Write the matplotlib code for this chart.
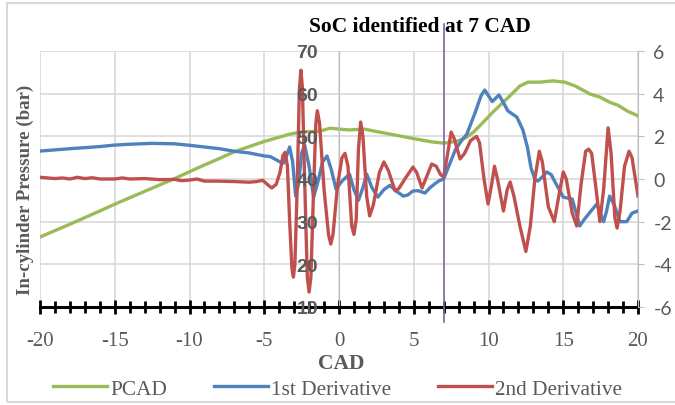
import matplotlib
matplotlib.use("Agg")
import matplotlib.pyplot as plt
from matplotlib.patches import Rectangle
from matplotlib.ticker import MultipleLocator

plt.rcParams['axes.unicode_minus'] = False

# crank angle (CAD) and in-cylinder pressure (bar)
pcad_x = [-20, -18, -16, -15, -14, -12, -11, -10, -9, -8, -7, -6, -5, -4, -3.3,
          -2.6, -2, -1.3, -0.6, 0, 0.7, 1.7, 2.4, 3.0, 3.75, 4.5, 5.1, 6.2, 7.0,
          7.6, 8.0, 8.55, 9.0, 9.4, 10.3, 11.2, 12.1, 12.65, 13.45, 14.3, 15.1,
          15.8, 16.8, 17.45, 18.1, 18.65, 19.3, 20.0]
pcad_y = [26.4, 29.4, 32.5, 34.1, 35.6, 38.6, 40.1, 41.7, 43.3, 44.8, 46.4, 47.6,
          48.8, 49.8, 50.5, 51.0, 51.1, 51.2, 51.9, 51.7, 51.5, 51.7, 51.2, 50.8,
          50.3, 49.8, 49.4, 48.7, 48.4, 48.7, 49.0, 49.8, 51.0, 52.4, 55.7, 58.7,
          61.8, 62.7, 62.7, 63.0, 62.7, 61.8, 59.9, 59.2, 58.0, 57.3, 55.9, 54.8]

# first derivative of pressure
d1_x = [-20, -18, -16, -15, -14, -12.5, -11, -10, -9, -8, -7, -6, -5, -4.6, -4.2,
        -3.95, -3.7, -3.5, -3.3, -3.1, -2.9, -2.7, -2.5, -2.3, -2.0, -1.7, -1.4,
        -1.1, -0.8, -0.5, -0.2, 0.2, 0.7, 1.0, 1.3, 1.6, 1.85, 2.2, 2.6, 3.0,
        3.4, 3.8, 4.3, 4.6, 4.95, 5.3, 5.75, 6.1, 6.4, 6.7, 7.0, 7.4, 7.8, 8.2,
        8.55, 9.1, 9.5, 9.75, 10.0, 10.25, 10.5, 10.7, 10.9, 11.3, 11.9, 12.3,
        12.6, 12.85, 13.1, 13.3, 13.6, 13.9, 14.2, 14.45, 15.0, 15.6, 16.1, 16.4,
        16.8, 17.25, 17.7, 17.9, 18.1, 18.4, 18.8, 19.25, 19.6, 20.0]
d1_y = [1.31, 1.42, 1.52, 1.59, 1.63, 1.67, 1.65, 1.58, 1.5, 1.42, 1.3, 1.22,
        1.08, 1.05, 0.9, 0.8, 0.75, 1.1, 1.5, 0.8, -0.8, -0.2, 1.2, 1.6, 0.6,
        -0.85, -0.1, 0.8, 1.08, 0.4, -0.47, -0.1, 0.23, -0.5, -1.0, -0.4, 0.23,
        -0.4, -0.85, -0.5, -0.3, -0.55, -0.8, -0.75, -0.56, -0.55, -0.66, -0.4,
        -0.23, -0.08, 0.0, 0.7, 1.4, 1.8, 2.1, 3.1, 3.9, 4.17, 3.9, 3.63, 3.8,
        3.94, 3.7, 3.19, 2.9, 2.3, 1.5, 0.5, 0.0, -0.1, 0.1, 0.33, 0.2, -0.14,
        -0.85, -0.94, -2.2, -1.9, -1.55, -1.17, -2.0, -1.5, -0.8, -1.2, -2.0,
        -2.0, -1.6, -1.5]

# second derivative of pressure
d2_x = [-20, -19, -18.5, -18, -17.5, -17, -16.5, -16, -15, -14.5, -14, -13, -12,
        -11, -10.5, -10, -9.5, -9, -8, -7, -6, -5.5, -5.1, -4.8, -4.5, -4.2,
        -3.95, -3.75, -3.6, -3.45, -3.3, -3.15, -3.05, -2.95, -2.8, -2.65, -2.55,
        -2.45, -2.3, -2.12, -2.0, -1.88, -1.7, -1.55, -1.45, -1.3, -1.0, -0.7,
        -0.55, -0.4, -0.1, 0.2, 0.4, 0.6, 0.85, 1.0, 1.15, 1.3, 1.45, 1.6, 1.85,
        2.05, 2.3, 2.7, 3.0, 3.3, 3.75, 4.0, 4.5, 4.95, 5.2, 5.55, 5.8, 6.2, 6.5,
        6.8, 7.0, 7.2, 7.5, 7.7, 8.1, 8.4, 8.8, 9.2, 9.4, 9.7, 9.97, 10.2, 10.4,
        10.6, 11.0, 11.25, 11.45, 11.7, 12.1, 12.5, 12.8, 13.1, 13.4, 13.6, 14.0,
        14.4, 14.7, 15.0, 15.2, 15.6, 15.9, 16.2, 16.5, 16.7, 16.9, 17.2, 17.45,
        17.7, 18.0, 18.2, 18.45, 18.6, 18.8, 19.1, 19.4, 19.6, 20.0]
d2_y = [0.08, 0.02, 0.05, 0.0, 0.08, 0.02, 0.06, 0.0, 0.0, 0.05, 0.0, 0.02,
        -0.03, -0.02, -0.08, -0.05, 0.0, -0.1, -0.1, -0.12, -0.15, -0.12, -0.06,
        -0.25, -0.42, -0.25, 0.3, 1.1, 1.25, 0.6, -2.0, -4.2, -4.6, -4.0, -0.5,
        4.2, 5.1, 4.3, 0.0, -4.6, -5.3, -4.6, -0.5, 2.6, 3.2, 2.6, -0.5, -2.6,
        -3.05, -2.6, -0.3, 1.0, 1.2, 0.6, -2.2, -2.6, -1.9, 1.4, 2.67, 2.0, -0.8,
        -1.73, -1.2, 0.3, 0.8, 0.4, -0.55, -0.45, 0.1, 0.56, 0.3, -0.42, 0.0, 0.7,
        0.6, 0.2, 0.1, 0.9, 2.2, 1.9, 0.94, 1.2, 1.8, 2.0, 1.7, 0.0, -1.17, -0.3,
        0.6, 0.0, -1.5, -0.5, -0.14, -0.8, -2.2, -3.4, -2.2, 0.0, 1.3, 0.8, -1.3,
        -2.0, -0.8, 0.33, 0.0, -1.6, -2.2, -0.2, 1.3, 1.4, 1.2, -0.5, -2.0, -0.5,
        2.4, 1.2, -1.8, -2.3, -1.5, 0.6, 1.3, 1.0, -0.8]

soc_cad = 7

grey = '#595959'
serif = ['Liberation Serif', 'DejaVu Serif']

fig = plt.figure(figsize=(6.75, 4.06), dpi=100)
ax = fig.add_axes([40 / 675, 98 / 406, 598 / 675, 256 / 406])
ax2 = ax.twinx()   # derivatives, right scale
ax3 = ax.twinx()   # pressure labels drawn over the curves

ax.set_xlim(-20, 20)
ax.set_ylim(10, 70)
ax2.set_ylim(-6, 6)
ax3.set_ylim(10, 70)

ax.grid(True, color='#D9D9D9', linewidth=1.2)
ax.set_axisbelow(True)
ax.xaxis.set_major_locator(MultipleLocator(5))
ax.xaxis.set_minor_locator(MultipleLocator(1))
ax.yaxis.set_major_locator(MultipleLocator(10))
ax2.yaxis.set_major_locator(MultipleLocator(2))
ax3.yaxis.set_major_locator(MultipleLocator(10))

for s in ['top', 'right']:
    ax.spines[s].set_visible(False)
ax.spines['left'].set_position(('data', 0))
ax.spines['left'].set_color('#BFBFBF')
ax.spines['bottom'].set_linewidth(2.2)
ax.spines['bottom'].set_zorder(5)
ax.tick_params(axis='y', left=False, labelleft=False)

for s in ['top', 'left', 'bottom']:
    ax2.spines[s].set_visible(False)
ax2.spines['right'].set_color('#BFBFBF')

for s in ax3.spines.values():
    s.set_visible(False)
ax3.yaxis.tick_left()
ax3.spines['left'].set_position(('data', 0))
ax3.tick_params(axis='y', length=0, pad=15)

ax.tick_params(axis='x', which='major', direction='inout', length=10, width=2,
               color='black', pad=12, labelsize=15, labelcolor=grey)
ax.tick_params(axis='x', which='minor', direction='inout', length=8, width=2,
               color='black')
ax2.tick_params(axis='y', length=4, color='#BFBFBF', pad=7, labelsize=14,
                labelcolor=grey)

for lab in ax.get_xticklabels():
    lab.set_family(serif)
for lab in ax3.get_yticklabels():
    lab.set_family(['Liberation Sans Narrow', 'Liberation Sans'])
    lab.set_fontweight('bold')
    lab.set_fontsize(14)
    lab.set_color(grey)
for lab in ax2.get_yticklabels():
    lab.set_family(['Lato', 'DejaVu Sans'])

l1, = ax.plot(pcad_x, pcad_y, color='#9BBB59', linewidth=2.4,
              solid_joinstyle='round', label='PCAD')
l2, = ax2.plot(d1_x, d1_y, color='#4F81BD', linewidth=2.4,
               solid_joinstyle='round', label='1st Derivative')
l3, = ax2.plot(d2_x, d2_y, color='#C0504D', linewidth=2.4,
               solid_joinstyle='round', label='2nd Derivative')

ax2.axvline(soc_cad, ymin=-0.06, ymax=1.105, color='#8064A2', linewidth=1.2,
            clip_on=False)

fig.text(0.622, 0.933, 'SoC identified at 7 CAD', ha='center', va='center',
         family=serif, fontweight='bold', fontsize=15.5)
fig.text(0.505, 0.103, 'CAD', ha='center', va='center', family=serif,
         fontweight='bold', fontsize=15.5, color=grey)
fig.text(0.037, 0.532, 'In-cylinder Pressure (bar)', ha='center', va='center',
         rotation=90, family=serif, fontweight='bold', fontsize=13.6, color=grey)

fig.legend(handles=[l1, l2, l3], loc='center', bbox_to_anchor=(0.5, 0.04),
           ncol=3, frameon=False, handlelength=2.54, handletextpad=0.15,
           columnspacing=2.2, prop={'family': serif, 'size': 15.3},
           labelcolor=grey)

fig.patches.append(Rectangle((7 / 675, 3 / 406), 670 / 675, 399 / 406,
                             transform=fig.transFigure, fill=False,
                             edgecolor='#D9D9D9', linewidth=1.5))

fig.savefig('out.png', dpi=100)
